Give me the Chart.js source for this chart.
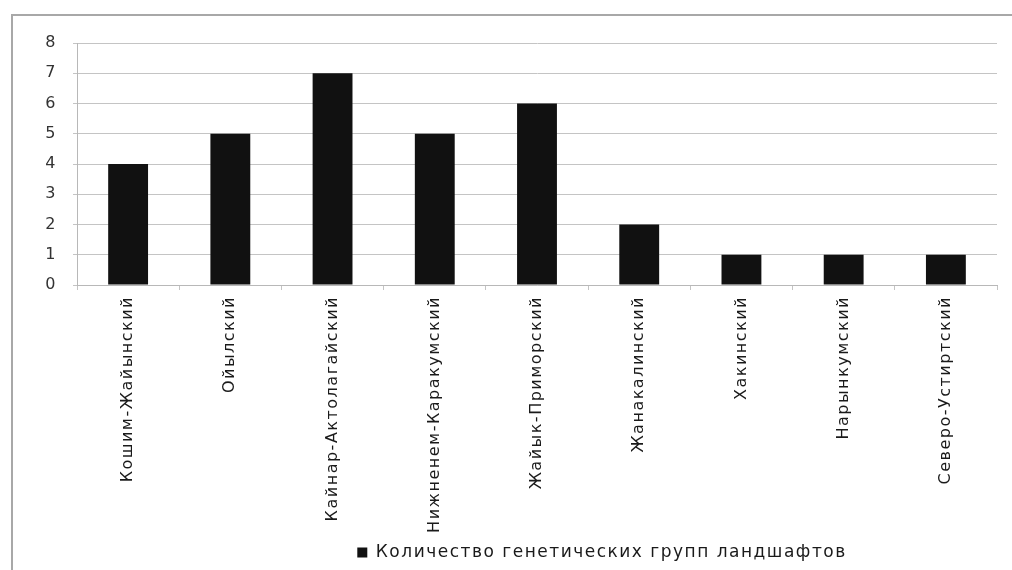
<!DOCTYPE html>
<html>
<head>
<meta charset="utf-8">
<script src="https://cdn.jsdelivr.net/npm/chart.js@4.4.1/dist/chart.umd.min.js"></script>
<style>
  html, body { margin: 0; padding: 0; background: #fff; }
  #frame {
    position: absolute; left: 11px; top: 14px;
    width: 1001px; height: 556px;
    border-top: 2px solid #a8a8a8; border-left: 2px solid #a8a8a8;
  }
  #wrap { position: absolute; left: 13px; top: 16px; width: 999px; height: 554px; }
</style>
</head>
<body>
<div id="frame"></div>
<div id="wrap"><canvas id="landscapeChart"></canvas></div>
<script>
const regions = [
  "Кошим-Жайынский",
  "Ойылский",
  "Кайнар-Актолагайский",
  "Нижненем-Каракумский",
  "Жайык-Приморский",
  "Жанакалинский",
  "Хакинский",
  "Нарынкумский",
  "Северо-Устиртский"
];
const groupCounts = [4, 5, 7, 5, 6, 2, 1, 1, 1];
const seriesName = "Количество генетических групп ландшафтов";
const yMin = 0;
const yMax = 8;
const yStep = 1;

window.addEventListener("DOMContentLoaded", () => {
  const canvas = document.getElementById("landscapeChart");
  const ctx = canvas.getContext("2d");
  const font = "'DejaVu Sans', Verdana, sans-serif";

  // the source text is set wider than DejaVu, so space the letters out a bit
  const spacing = "1.5px";
  const wideText = {
    id: "wideText",
    beforeUpdate: (chart) => { chart.ctx.letterSpacing = spacing; },
    beforeLayout: (chart) => { chart.ctx.letterSpacing = spacing; },
    beforeDraw: (chart) => { chart.ctx.letterSpacing = spacing; }
  };

  // legend sits right of centre and a little lower in the original
  const legendShift = {
    id: "legendShift",
    afterLayout: (chart) => {
      const lg = chart.legend;
      if (!lg) return;
      const dx = 589 - (lg.left + lg.right) / 2;
      lg.left += dx;
      lg.right += dx;
      lg.top += 5;
      lg.bottom += 5;
    }
  };

  new Chart(ctx, {
    type: "bar",
    data: {
      labels: regions,
      datasets: [{
        label: seriesName,
        data: groupCounts,
        backgroundColor: "#111111",
        borderWidth: 0,
        categoryPercentage: 1,
        barPercentage: 0.39
      }]
    },
    plugins: [wideText, legendShift],
    options: {
      responsive: true,
      maintainAspectRatio: false,
      animation: false,
      layout: { padding: { left: 0, right: 15, top: 27, bottom: 4 } },
      plugins: {
        tooltip: { enabled: false },
        legend: {
          position: "bottom",
          labels: {
            boxWidth: 10,
            boxHeight: 10,
            padding: 7,
            color: "#1a1a1a",
            font: { family: font, size: 17 }
          }
        }
      },
      scales: {
        x: {
          grid: {
            display: true,
            drawOnChartArea: false,
            drawTicks: true,
            tickLength: 5,
            color: "#c4c4c4"
          },
          border: { color: "#b8b8b8", width: 1 },
          ticks: {
            minRotation: 90,
            maxRotation: 90,
            autoSkip: false,
            padding: 6,
            color: "#1a1a1a",
            font: { family: font, size: 16 }
          },
          afterFit: (scale) => { scale.height = 247; }
        },
        y: {
          min: yMin,
          max: yMax,
          grid: {
            color: "#c4c4c4",
            lineWidth: 1,
            tickLength: 4
          },
          border: { color: "#b8b8b8", width: 1 },
          ticks: {
            stepSize: yStep,
            padding: 16,
            color: "#333",
            font: { family: font, size: 16 }
          },
          afterFit: (scale) => { scale.width = 64; }
        }
      }
    }
  });
});
</script>
</body>
</html>
